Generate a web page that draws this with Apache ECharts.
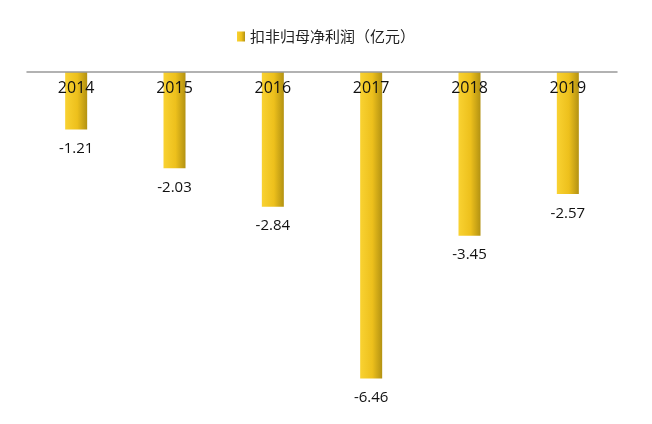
<!DOCTYPE html>
<html><head><meta charset="utf-8">
<script src="https://cdn.jsdelivr.net/npm/echarts@6/dist/echarts.min.js"></script>
<style>html,body{margin:0;background:#fff}#c{width:652px;height:424px}</style>
</head><body><div id="c"></div>
<script>
const categories = ['2014','2015','2016','2017','2018','2019'];
const values = [-1.21,-2.03,-2.84,-6.46,-3.45,-2.57];
const seriesName = '扣非归母净利润（亿元）';
const chart = echarts.init(document.getElementById('c'));
chart.setOption({
  animation:false,
  textStyle:{fontFamily:'"Noto Sans CJK SC","Open Sans",sans-serif'},
  legend:{top:24,left:'center',itemWidth:8,itemHeight:10,icon:'rect',
    textStyle:{fontSize:15,color:'#222'},data:[seriesName]},
  grid:{left:27,right:35,top:72,bottom:20},
  xAxis:{type:'category',data:categories,position:'top',z:10,
    axisLine:{lineStyle:{color:'#999',width:1.5}},axisTick:{show:false},
    axisLabel:{inside:true,margin:8,color:'#111',fontSize:16,fontFamily:'"Open Sans",sans-serif'}},
  yAxis:{type:'value',min:-7,max:0,show:false,splitLine:{show:false}},
  series:[{name:seriesName,type:'bar',data:values,barWidth:22,
    itemStyle:{color:new echarts.graphic.LinearGradient(0,0,1,0,[
      {offset:0,color:'#F9D232'},{offset:0.55,color:'#EDC01C'},{offset:1,color:'#B39212'}])},
    label:{show:true,position:'bottom',distance:12,color:'#111',fontSize:15,fontFamily:'"Open Sans",sans-serif'}}]
});
</script></body></html>
